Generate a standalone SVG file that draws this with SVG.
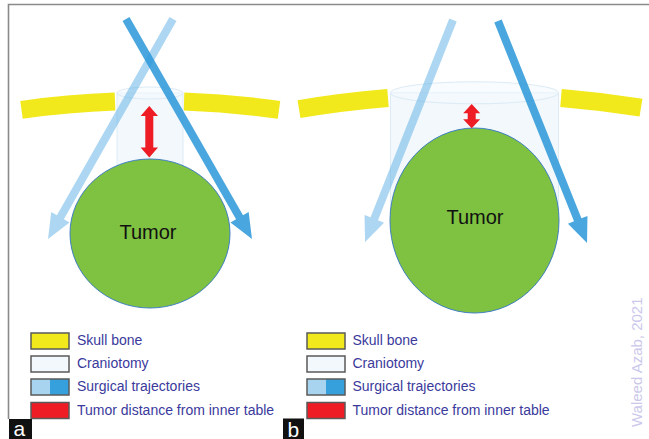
<svg xmlns="http://www.w3.org/2000/svg" width="649" height="439" viewBox="0 0 649 439">
<defs>
<style>
.frame{fill:none;stroke:#8a8a8a;stroke-width:1.6}
.bone{fill:none;stroke:#f1e91b;stroke-width:18}
.cyl{fill:#edf5fb;fill-opacity:0.7;stroke:#dcebf6;stroke-width:1}
.cyltop{fill:#f4f9fd;fill-opacity:0.5;stroke:#dcebf6;stroke-width:1}
.tumor{fill:#7fc242;stroke:#3f7fc0;stroke-width:1}
.ttext{font-family:"Liberation Sans",Arial,sans-serif;font-size:20px;fill:#111;text-anchor:middle}
.trajL{fill:#5aaee3;fill-opacity:0.5}
.trajD{fill:#2a96d8;fill-opacity:0.85}
.dist{fill:#ee1d25}
.lbox{stroke:#5a5a5a;stroke-width:1.5}
.ltext{font-family:"Liberation Sans",Arial,sans-serif;font-size:14px;fill:#3a3a9c}
.tag{fill:#111}
.tagtext{font-family:"Liberation Sans",Arial,sans-serif;font-size:21px;fill:#fff}
.wm{font-family:"Liberation Sans",Arial,sans-serif;font-size:15px;fill:#cbc8ec}
</style>
</defs>
<rect width="649" height="439" fill="#fff"/>
<path class="frame" d="M8.5,419 V4.5 H649"/>

<!-- Panel a -->
<g id="a-skull">
<path class="bone" d="M21.5,109.8 A950,950 0 0 1 115,101.6"/>
<path class="bone" d="M184,101.6 A950,950 0 0 1 279,109.8"/>
</g>
<g id="a-craniotomy">
<path class="cyl" d="M117,93 V175 A33,6 0 0 0 183,175 V93 Z"/>
<ellipse class="cyltop" cx="150" cy="93" rx="33" ry="6"/>
</g>
<g id="a-tumor">
<ellipse class="tumor" cx="150" cy="233.5" rx="80" ry="74.5"/>
<text class="ttext" x="148" y="239">Tumor</text>
</g>
<g id="a-distance">
<path class="dist" d="M149.3,106 L158,116 L153.3,116 L153.3,147.5 L158,147.5 L149.3,157.5 L140.6,147.5 L145.3,147.5 L145.3,116 L140.6,116 Z"/>
</g>
<g id="a-trajectories">
<path class="trajL" transform="translate(173,19) rotate(119.6)" d="M0,-4 H228 V-10.5 L253,0 L228,10.5 V4 H0 Z"/>
<path class="trajD" transform="translate(126,19) rotate(60.2)" d="M0,-4 H228.5 V-10.5 L253.5,0 L228.5,10.5 V4 H0 Z"/>
</g>

<!-- Panel b -->
<g id="b-skull">
<path class="bone" d="M299,109.1 A1060,1060 0 0 1 388,98"/>
<path class="bone" d="M561,98 A1060,1060 0 0 1 641,107.7"/>
</g>
<g id="b-craniotomy">
<path class="cyl" d="M390.5,92.8 V212 A84,11 0 0 0 558.5,212 V92.8 Z"/>
<ellipse class="cyltop" cx="474.5" cy="92.8" rx="84" ry="11"/>
</g>
<g id="b-tumor">
<ellipse class="tumor" cx="474.5" cy="220.5" rx="84.5" ry="92.5"/>
<text class="ttext" x="475" y="223.5">Tumor</text>
</g>
<g id="b-distance">
<path class="dist" d="M471.7,104 L480.2,113.3 L475.7,113.3 L475.7,119.3 L480.2,119.3 L471.7,128.3 L463.2,119.3 L467.7,119.3 L467.7,113.3 L463.2,113.3 Z"/>
</g>
<g id="b-trajectories">
<path class="trajL" transform="translate(453,20) rotate(111.6)" d="M0,-4 H213.8 V-10.5 L238.8,0 L213.8,10.5 V4 H0 Z"/>
<path class="trajD" transform="translate(498,21) rotate(68.15)" d="M0,-4 H214.2 V-10.5 L239.2,0 L214.2,10.5 V4 H0 Z"/>
</g>

<!-- Legend a -->
<g id="a-legend">
<rect class="lbox" x="31" y="333" width="38" height="16" fill="#f1e91b"/>
<text class="ltext" x="77" y="345">Skull bone</text>
<rect class="lbox" x="31" y="356" width="38" height="16" fill="#f3f8fd"/>
<text class="ltext" x="77" y="368">Craniotomy</text>
<rect x="31" y="379" width="19" height="16" fill="#a8d4f0"/>
<rect x="50" y="379" width="19" height="16" fill="#36a0dc"/>
<rect class="lbox" x="31" y="379" width="38" height="16" fill="none"/>
<text class="ltext" x="77" y="391">Surgical trajectories</text>
<rect class="lbox" x="31" y="402.5" width="38" height="16" fill="#ee1d25"/>
<text class="ltext" x="77" y="414.5">Tumor distance from inner table</text>
</g>

<!-- Legend b -->
<g id="b-legend">
<rect class="lbox" x="307" y="333" width="38" height="16" fill="#f1e91b"/>
<text class="ltext" x="352.5" y="345">Skull bone</text>
<rect class="lbox" x="307" y="356" width="38" height="16" fill="#f3f8fd"/>
<text class="ltext" x="352.5" y="368">Craniotomy</text>
<rect x="307" y="379" width="19" height="16" fill="#a8d4f0"/>
<rect x="326" y="379" width="19" height="16" fill="#36a0dc"/>
<rect class="lbox" x="307" y="379" width="38" height="16" fill="none"/>
<text class="ltext" x="352.5" y="391">Surgical trajectories</text>
<rect class="lbox" x="307" y="402.5" width="38" height="16" fill="#ee1d25"/>
<text class="ltext" x="352.5" y="414.5">Tumor distance from inner table</text>
</g>

<g id="tag-a">
<rect class="tag" x="9" y="419" width="23" height="20"/>
<text class="tagtext" x="13.5" y="436">a</text>
</g>
<g id="tag-b">
<rect class="tag" x="283" y="418.5" width="21" height="20.5"/>
<text class="tagtext" x="287.5" y="436.5">b</text>
</g>

<text class="wm" transform="translate(642,427) rotate(-90)" x="0" y="0">Waleed Azab, 2021</text>
</svg>
